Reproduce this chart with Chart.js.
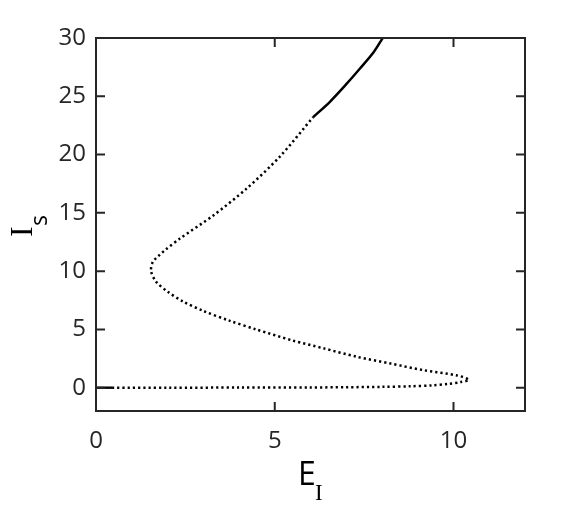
<!DOCTYPE html>
<html>
<head>
<meta charset="utf-8">
<script src="https://cdn.jsdelivr.net/npm/chart.js@4"></script>
<style>
  html, body { margin: 0; padding: 0; background: #fff; }
  #wrap { width: 580px; height: 508px; }
</style>
</head>
<body>
<div id="wrap"><canvas id="bif-chart" width="580" height="508"></canvas></div>
<script>
// stable branch near the origin
let lowStableE = [0, 0.45];
let lowStableI = [0, 0];

// unstable branch (dotted): along the bottom, round the fold, back up
let unstableE = [0.45, 2, 4, 6, 7, 8, 8.8, 9.4, 9.85, 10.2, 10.43, 10.1, 9.17, 8.24, 7.3, 6.37, 5.5, 4.48, 3.73, 2.99, 2.43, 2.0, 1.68, 1.54, 1.59, 1.75, 1.93, 2.35, 3.29, 4.22, 5.15, 6.07];
let unstableI = [0, 0, 0.01, 0.02, 0.04, 0.07, 0.12, 0.2, 0.32, 0.48, 0.68, 1.05, 1.5, 2.07, 2.65, 3.37, 4.05, 5.0, 5.75, 6.6, 7.4, 8.25, 9.1, 10, 10.8, 11.3, 11.8, 12.8, 14.8, 17.1, 19.85, 23.2];

// stable upper branch
let highStableE = [6.07, 6.55, 7.02, 7.39, 7.77, 8.02];
let highStableI = [23.2, 24.55, 26.1, 27.4, 28.8, 30];

let xTicks = [0, 5, 10];
let yTicks = [0, 5, 10, 15, 20, 25, 30];

let axisColor = "#262626";

function toPoints(xs, ys) {
  return xs.map((x, i) => ({ x: x, y: ys[i] }));
}

// frame, inward ticks on all four sides, and axis titles with subscripts
let framePlugin = {
  id: "frame",
  afterDraw(chart) {
    let ctx = chart.ctx;
    let a = chart.chartArea;
    let xs = chart.scales.x;
    let ys = chart.scales.y;
    let len = 9;
    ctx.save();
    ctx.strokeStyle = axisColor;
    ctx.lineWidth = 2;
    ctx.strokeRect(a.left, a.top, a.right - a.left, a.bottom - a.top);
    ctx.beginPath();
    xTicks.forEach((v) => {
      let px = xs.getPixelForValue(v);
      ctx.moveTo(px, a.bottom);
      ctx.lineTo(px, a.bottom - len);
      ctx.moveTo(px, a.top);
      ctx.lineTo(px, a.top + len);
    });
    yTicks.forEach((v) => {
      let py = ys.getPixelForValue(v);
      ctx.moveTo(a.left, py);
      ctx.lineTo(a.left + len, py);
      ctx.moveTo(a.right, py);
      ctx.lineTo(a.right - len, py);
    });
    ctx.stroke();

    // x title: E with subscript I
    ctx.fillStyle = "#000";
    ctx.textBaseline = "alphabetic";
    ctx.textAlign = "left";
    ctx.font = "32px 'Open Sans'";
    ctx.fillText("E", 298, 485);
    ctx.font = "23px 'Liberation Serif'";
    ctx.fillText("I", 315, 500);

    // y title: I with subscript s, rotated
    ctx.translate(32, 237);
    ctx.rotate(-Math.PI / 2);
    ctx.font = "32px 'Liberation Serif'";
    ctx.fillText("I", 0, 0);
    ctx.font = "23px 'Open Sans'";
    ctx.fillText("s", 11, 15);
    ctx.restore();
  },
};

let ctx = document.getElementById("bif-chart").getContext("2d");
let chart = new Chart(ctx, {
  type: "scatter",
  data: {
    datasets: [
      {
        data: toPoints(lowStableE, lowStableI),
        showLine: true,
        borderColor: "#000",
        borderWidth: 2.4,
        pointRadius: 0,
      },
      {
        data: toPoints(unstableE, unstableI),
        showLine: true,
        borderColor: "#000",
        borderWidth: 2.5,
        borderDash: [2.2, 3],
        tension: 0.3,
        pointRadius: 0,
      },
      {
        data: toPoints(highStableE, highStableI),
        showLine: true,
        borderColor: "#000",
        borderWidth: 2.5,
        tension: 0.3,
        pointRadius: 0,
      },
    ],
  },
  options: {
    responsive: false,
    animation: false,
    layout: { padding: { left: 0, right: 55, top: 38, bottom: 0 } },
    plugins: { legend: { display: false }, tooltip: { enabled: false } },
    scales: {
      x: {
        type: "linear",
        min: 0,
        max: 12,
        afterFit: (s) => { s.height = 97; },
        afterBuildTicks: (s) => { s.ticks = xTicks.map((v) => ({ value: v })); },
        grid: { display: false, drawTicks: false },
        border: { display: false },
        ticks: {
          color: axisColor,
          font: { family: "'Open Sans'", size: 24 },
          padding: 16,
          maxRotation: 0,
        },
      },
      y: {
        type: "linear",
        min: -2,
        max: 30,
        afterFit: (s) => { s.width = 96; },
        afterBuildTicks: (s) => { s.ticks = yTicks.map((v) => ({ value: v })); },
        grid: { display: false, drawTicks: false },
        border: { display: false },
        ticks: {
          color: axisColor,
          font: { family: "'Open Sans'", size: 24 },
          padding: 10,
        },
      },
    },
  },
  plugins: [framePlugin],
});
</script>
</body>
</html>
